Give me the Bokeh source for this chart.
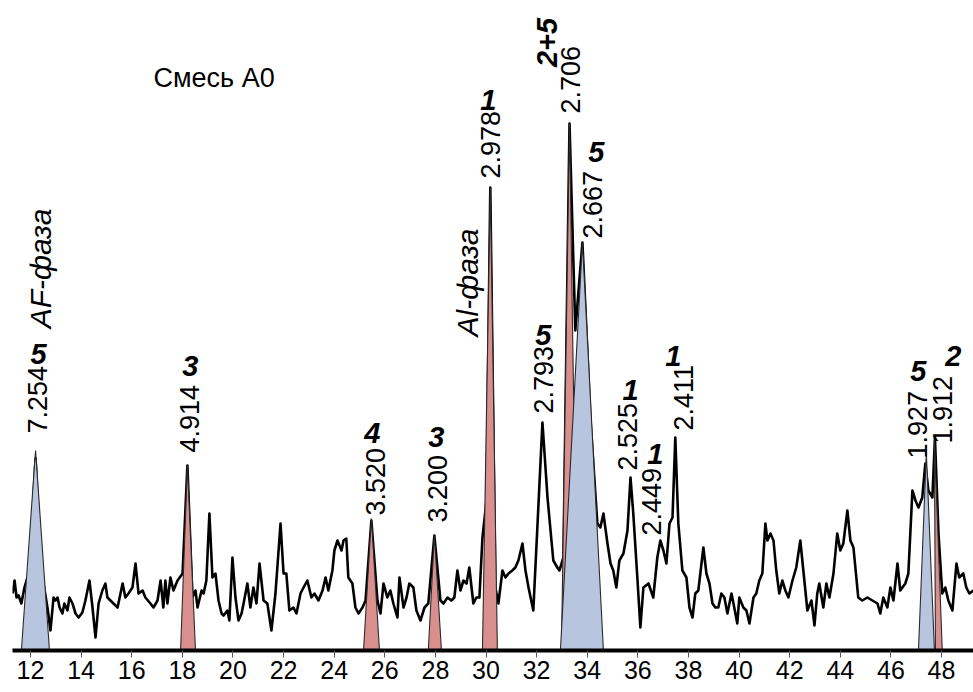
import math
from bokeh.plotting import figure
from bokeh.models import Range1d, FixedTicker, ColumnDataSource
from bokeh.core.properties import value
from bokeh.embed import file_html
from bokeh.resources import INLINE

# ---------------- data: diffractogram (2-theta, relative intensity) ----------------
two_theta = [11.29, 11.37, 11.45, 11.53, 11.64, 11.76, 11.96, 12.20, 12.43, 12.67, 12.79, 12.91, 12.99, 13.07,
             13.15, 13.26, 13.34, 13.46, 13.54, 13.66, 13.78, 13.90, 14.05, 14.17, 14.33, 14.45, 14.57, 14.69,
             14.84, 14.96, 15.04, 15.16, 15.28, 15.44, 15.64, 15.75, 15.87, 16.03, 16.15, 16.27, 16.43, 16.54,
             16.74, 16.86, 17.02, 17.14, 17.25, 17.33, 17.41, 17.53, 17.65, 17.81, 18.01, 18.20, 18.40, 18.52,
             18.60, 18.76, 18.84, 18.95, 19.07, 19.19, 19.31, 19.43, 19.55, 19.63, 19.78, 19.86, 19.98, 20.10,
             20.22, 20.34, 20.42, 20.57, 20.69, 20.81, 20.93, 21.05, 21.21, 21.36, 21.52, 21.68, 21.88, 22.00,
             22.11, 22.23, 22.39, 22.51, 22.67, 22.79, 22.94, 23.10, 23.22, 23.38, 23.54, 23.66, 23.77, 23.93,
             24.01, 24.13, 24.29, 24.37, 24.48, 24.56, 24.72, 24.84, 24.96, 25.12, 25.24, 25.47, 25.71, 25.83,
             25.95, 26.10, 26.22, 26.34, 26.50, 26.58, 26.74, 26.86, 26.97, 27.13, 27.25, 27.41, 27.57, 27.72,
             27.96, 28.20, 28.32, 28.48, 28.63, 28.75, 28.87, 28.99, 29.11, 29.23, 29.34, 29.50, 29.62, 29.74,
             29.86, 30.02, 30.17, 30.37, 30.49, 30.65, 30.77, 30.89, 31.04, 31.16, 31.28, 31.44, 31.56, 31.68,
             31.87, 32.23, 32.43, 32.55, 32.66, 32.82, 32.90, 33.06, 33.30, 33.53, 33.81, 34.13, 34.40, 34.52,
             34.64, 34.80, 34.92, 35.03, 35.15, 35.27, 35.43, 35.59, 35.71, 35.82, 35.98, 36.10, 36.22, 36.42,
             36.61, 36.77, 36.89, 37.01, 37.13, 37.25, 37.37, 37.48, 37.60, 37.76, 37.92, 38.04, 38.16, 38.27,
             38.39, 38.59, 38.71, 38.83, 38.95, 39.06, 39.18, 39.30, 39.42, 39.54, 39.70, 39.78, 39.93, 40.01,
             40.17, 40.29, 40.41, 40.57, 40.68, 40.80, 40.92, 41.04, 41.12, 41.24, 41.36, 41.47, 41.59, 41.71,
             41.83, 41.95, 42.11, 42.26, 42.42, 42.58, 42.70, 42.86, 42.98, 43.09, 43.17, 43.33, 43.45, 43.57,
             43.73, 43.88, 44.00, 44.12, 44.28, 44.40, 44.52, 44.71, 44.87, 45.07, 45.27, 45.47, 45.58, 45.70,
             45.86, 45.98, 46.10, 46.26, 46.37, 46.57, 46.69, 46.85, 46.97, 47.09, 47.24, 47.36, 47.48, 47.64,
             47.74, 47.88, 48.03, 48.15, 48.27, 48.43, 48.59, 48.70, 48.86, 48.98, 49.10, 49.26]
intensity = [57, 70, 53, 55, 47, 63, 80, 192, 80, 43, 20, 53, 50, 53,
             43, 37, 47, 40, 53, 47, 37, 33, 38, 50, 70, 43, 13, 47,
             60, 67, 53, 50, 47, 43, 67, 53, 57, 63, 87, 57, 60, 53,
             47, 43, 50, 70, 43, 70, 47, 73, 60, 70, 77, 185, 53, 60,
             43, 60, 57, 70, 137, 73, 77, 50, 37, 35, 40, 30, 93, 53,
             30, 37, 47, 67, 43, 63, 47, 87, 50, 47, 20, 57, 127, 77,
             77, 40, 43, 37, 57, 63, 70, 53, 57, 50, 60, 73, 60, 80,
             100, 110, 100, 110, 112, 73, 67, 43, 37, 43, 50, 130, 50, 37,
             67, 53, 60, 47, 33, 73, 43, 53, 67, 63, 40, 30, 43, 47,
             115, 50, 47, 53, 50, 53, 80, 60, 70, 67, 83, 47, 53, 53,
             113, 150, 463, 63, 47, 80, 73, 77, 80, 83, 90, 107, 80, 63,
             40, 228, 153, 120, 90, 83, 80, 93, 527, 320, 408, 230, 127, 123,
             137, 107, 87, 80, 63, 90, 97, 120, 173, 137, 73, 23, 63, 67,
             53, 93, 110, 100, 87, 127, 133, 213, 127, 80, 73, 43, 33, 57,
             60, 103, 77, 67, 47, 43, 43, 57, 53, 37, 57, 47, 27, 53,
             43, 40, 27, 53, 57, 70, 77, 127, 110, 117, 110, 80, 57, 70,
             60, 53, 70, 83, 110, 70, 40, 50, 25, 57, 67, 43, 67, 53,
             77, 117, 100, 107, 140, 110, 103, 53, 50, 53, 50, 47, 37, 53,
             43, 63, 50, 87, 60, 67, 77, 160, 150, 143, 153, 187, 160, 153,
             213, 117, 57, 63, 50, 40, 87, 73, 77, 63, 57, 60]

x_ticks = [12, 14, 16, 18, 20, 22, 24, 26, 28, 30, 32, 34, 36, 38, 40, 42, 44, 46, 48]

# ---------------- reference-line markers (triangles) ----------------
marker_apex_x = [12.20, 18.20, 25.47, 27.96, 30.17, 33.30, 33.81, 47.40, 47.72]
marker_apex_y = [200, 185, 132, 115, 463, 527, 408, 198, 210]
marker_left = [11.64, 17.93, 25.16, 27.72, 29.86, 32.98, 32.94, 47.09, 47.76]
marker_right = [12.75, 18.52, 25.79, 28.24, 30.45, 33.61, 34.64, 47.72, 48.03]
marker_phase = ["5", "3", "4", "3", "1", "2+5", "5", "5", "2"]

# ---------------- annotated peaks ----------------
peak_d = ["7.254", "4.914", "3.520", "3.200", "2.978", "2.706", "2.667",
          "2.793", "2.525", "2.449", "2.411", "1.927", "1.912"]
peak_x = [12.20, 18.20, 25.47, 27.96, 30.17, 33.30, 33.81,
          32.23, 35.71, 36.89, 37.48, 47.40, 47.72]
peak_y = [200, 185, 132, 115, 463, 527, 408, 228, 173, 110, 213, 198, 210]
peak_phase = ["5", "3", "4", "3", "1", "2+5", "5", "5", "1", "1", "1", "5", "2"]

title_text = "Смесь А0"
phase_names = ["AF-фаза", "Al-фаза"]

# ---------------- layout / style (screen pixels) ----------------
d_dx = [2, 2, 4, 3, 0, 1, 10, 1, -3, -9, 8, -9, 8]
d_gap = [17, 13, 3, 13, 9, 10, 4, 9, 7, 5, 7, -6, -3]
ph_dx = [3, 3, 1, 2, -2, -23, 14, 1, 0, -5, -2, -8, 19]
ph_up = [97, 100, 86, 99, 88, 81, 91, 88, 88, 87, 82, 82, 85]
ph_angle = [0, 0, 0, 0, 0, math.pi / 2, 0, 0, 0, 0, 0, 0, 0]

RED = "#d98f8e"
BLUE = "#b7c5df"
SANS = "Liberation Sans"

p = figure(width=973, height=692, output_backend="svg", toolbar_location=None,
           x_range=Range1d(11.289, 49.264), y_range=Range1d(0, 650),
           y_axis_location=None, min_border_left=12, min_border_right=0,
           min_border_top=0, min_border_bottom=42)
p.outline_line_color = None
p.xgrid.visible = False
p.ygrid.visible = False
p.background_fill_color = "white"

# diffractogram trace
p.line(two_theta, intensity, line_color="black", line_width=2.6, line_join="round")

# triangles
xs, ys, cols = [], [], []
for ax_, ay, l, r, ph in zip(marker_apex_x, marker_apex_y, marker_left, marker_right, marker_phase):
    xs.append([l, ax_, r])
    ys.append([0, ay, 0])
    cols.append(BLUE if ph == "5" else RED)
p.patches(xs, ys, fill_color=cols, line_color="#2a2a2a", line_width=1.1)

# d-spacing labels (rotated)
dsrc = ColumnDataSource(dict(x=peak_x, y=[y + g for y, g in zip(peak_y, d_gap)],
                             text=peak_d, xo=d_dx))
p.text(x="x", y="y", text="text", x_offset="xo", source=dsrc, angle=math.pi / 2,
       text_align="left", text_baseline="middle", text_font=value(SANS),
       text_font_size="27px", text_color="black")

# phase numbers
psrc = ColumnDataSource(dict(x=peak_x, y=[y + u for y, u in zip(peak_y, ph_up)],
                             text=peak_phase, xo=ph_dx, ang=ph_angle))
p.text(x="x", y="y", text="text", x_offset="xo", angle="ang", source=psrc,
       text_align="center", text_baseline="middle", text_font=value(SANS),
       text_font_style="bold italic", text_font_size="29px", text_color="black")

# phase names
nsrc = ColumnDataSource(dict(x=[peak_x[0], peak_x[4]],
                             y=[peak_y[0] + 182, peak_y[4] - 95],
                             text=phase_names, xo=[5, -23]))
p.text(x="x", y="y", text="text", x_offset="xo", source=nsrc, angle=math.pi / 2,
       text_align="center", text_baseline="middle", text_font=value(SANS),
       text_font_style="italic", text_font_size="30px", text_color="black")

# title
p.text(x=[16.86], y=[573], text=[title_text], text_align="left", text_baseline="middle",
       text_font=value(SANS), text_font_size="27px", text_color="black")

# x axis
ax = p.xaxis[0]
ax.ticker = FixedTicker(ticks=x_ticks)
ax.axis_line_width = 4
ax.axis_line_color = "black"
ax.major_tick_in = 0
ax.major_tick_out = 7
ax.major_tick_line_color = "#555555"
ax.major_tick_line_width = 1
ax.minor_tick_line_color = None
ax.major_label_standoff = 3
ax.major_label_text_font = SANS
ax.major_label_text_font_size = "25px"
ax.major_label_text_color = "black"

open("out.html", "w").write(file_html(p, INLINE))
